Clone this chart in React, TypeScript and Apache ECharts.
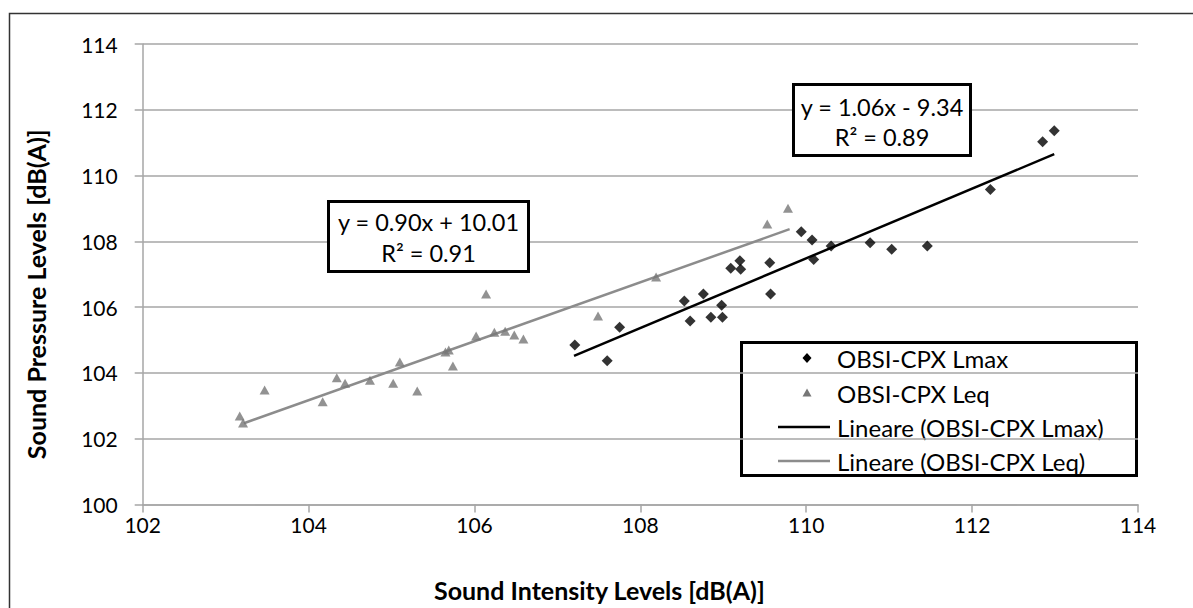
import React, { useEffect, useRef } from "react";
import * as echarts from "echarts";

// Data
const lmaxX = [107.21, 107.6, 107.75, 108.53, 108.6, 108.76, 108.85, 108.98, 108.99, 109.09, 109.2, 109.21, 109.56, 109.57, 109.94, 110.07, 110.09, 110.3, 110.77, 111.03, 111.46, 112.22, 112.85, 112.99];
const lmaxY = [104.85, 104.37, 105.39, 106.19, 105.58, 106.4, 105.69, 106.06, 105.69, 107.18, 107.41, 107.15, 107.35, 106.4, 108.29, 108.04, 107.45, 107.86, 107.96, 107.76, 107.86, 109.58, 111.03, 111.36];
const leqX = [103.17, 103.21, 103.47, 104.17, 104.34, 104.44, 104.74, 105.02, 105.1, 105.31, 105.65, 105.69, 105.74, 106.02, 106.14, 106.24, 106.37, 106.48, 106.59, 107.49, 108.19, 109.53, 109.78];
const leqY = [102.69, 102.48, 103.48, 103.12, 103.85, 103.69, 103.78, 103.69, 104.33, 103.45, 104.64, 104.7, 104.21, 105.12, 106.4, 105.24, 105.27, 105.15, 105.03, 105.73, 106.92, 108.53, 109.01];
const lmaxTrendX = [107.2, 112.99];
const lmaxTrendY = [104.52, 110.65];
const leqTrendX = [103.22, 109.8];
const leqTrendY = [102.47, 108.37];

const seriesNames = [
  "OBSI-CPX Lmax",
  "OBSI-CPX Leq",
  "Lineare (OBSI-CPX Lmax)",
  "Lineare (OBSI-CPX Leq)",
];
const eqLmax = ["y = 1.06x - 9.34", "R² = 0.89"];
const eqLeq = ["y = 0.90x + 10.01", "R² = 0.91"];
const xTitle = "Sound Intensity Levels [dB(A)]";
const yTitle = "Sound Pressure Levels [dB(A)]";

const FONT = "Lato";
const GRID = "#a6a6a6";
const LMAX_COLOR = "#000";
const LEQ_COLOR = "#777";
const LEQ_LINE = "#8c8c8c";

function zip(xs: number[], ys: number[]) {
  return xs.map((x, i) => [x, ys[i]]);
}

function eqBox(x: number, y: number, w: number, h: number, lines: string[], l1: number, l2: number) {
  const txt = (t: string, ty: number) => ({
    type: "text",
    x: x + w / 2,
    y: ty,
    style: { text: t, fontFamily: FONT, fontSize: 23.5, fill: "#000", align: "center", verticalAlign: "middle" },
    z: 11,
  });
  return {
    type: "group",
    children: [
      {
        type: "rect",
        shape: { x: x + 1.5, y: y + 1.5, width: w - 3, height: h - 3 },
        style: { fill: "#fff", stroke: "#000", lineWidth: 3 },
        z: 10,
      },
      txt(lines[0], l1),
      txt(lines[1], l2),
    ],
  };
}

function legendGraphic() {
  const rows = [358, 393, 427, 461];
  const children: any[] = [
    {
      type: "rect",
      shape: { x: 741.5, y: 342.5, width: 395, height: 133 },
      style: { fill: "#fff", stroke: "#000", lineWidth: 3 },
    },
    {
      type: "polygon",
      shape: { points: [[807, rows[0] - 5], [811.5, rows[0]], [807, rows[0] + 5], [802.5, rows[0]]] },
      style: { fill: LMAX_COLOR },
    },
    {
      type: "polygon",
      shape: { points: [[807, rows[1] - 4.5], [811.5, rows[1] + 3.5], [802.5, rows[1] + 3.5]] },
      style: { fill: LEQ_COLOR },
    },
    {
      type: "line",
      shape: { x1: 778, y1: rows[2], x2: 830, y2: rows[2] },
      style: { stroke: LMAX_COLOR, lineWidth: 2.5 },
    },
    {
      type: "line",
      shape: { x1: 778, y1: rows[3], x2: 830, y2: rows[3] },
      style: { stroke: LEQ_LINE, lineWidth: 2.5 },
    },
  ];
  seriesNames.forEach((n, i) => {
    children.push({
      type: "text",
      x: 837,
      y: rows[i],
      style: { text: n, fontFamily: FONT, fontSize: 24, fill: "#000", align: "left", verticalAlign: "middle" },
    });
  });
  return { type: "group", z: 12, children };
}

export default function App() {
  const ref = useRef<HTMLDivElement>(null);
  useEffect(() => {
    if (!ref.current) return;
    const chart = echarts.init(ref.current, undefined, { renderer: "svg" });
    chart.setOption({
      animation: false,
      backgroundColor: "#fff",
      grid: { left: 142.7, right: 55, top: 44, bottom: 103.5, containLabel: false },
      xAxis: {
        type: "value",
        min: 102,
        max: 114,
        interval: 2,
        name: xTitle,
        nameLocation: "middle",
        nameGap: 73,
        nameTextStyle: { fontFamily: FONT, fontSize: 25, fontWeight: "bold", color: "#000", padding: [0, 82, 0, 0] },
        axisLine: { show: true, lineStyle: { color: GRID, width: 1.5 } },
        axisTick: { show: true, length: 8, lineStyle: { color: GRID, width: 1.5 } },
        axisLabel: { fontFamily: FONT, fontSize: 21, color: "#000", margin: 9 },
        splitLine: { show: false },
      },
      yAxis: {
        type: "value",
        min: 100,
        max: 114,
        interval: 2,
        name: yTitle,
        nameLocation: "middle",
        nameGap: 94,
        nameRotate: 90,
        nameTextStyle: { fontFamily: FONT, fontSize: 25, fontWeight: "bold", color: "#000", padding: [0, 40, 0, 0] },
        axisLine: { show: true, lineStyle: { color: GRID, width: 1.5 } },
        axisTick: { show: true, length: 8, lineStyle: { color: GRID, width: 1.5 } },
        axisLabel: { fontFamily: FONT, fontSize: 21, color: "#000", margin: 25 },
        splitLine: { show: true, lineStyle: { color: GRID, width: 1.5 } },
      },
      series: [
        {
          name: seriesNames[0],
          type: "scatter",
          symbol: "diamond",
          symbolSize: 11,
          itemStyle: { color: LMAX_COLOR },
          data: zip(lmaxX, lmaxY),
          z: 4,
        },
        {
          name: seriesNames[1],
          type: "scatter",
          symbol: "triangle",
          symbolSize: [10, 9],
          itemStyle: { color: LEQ_COLOR },
          data: zip(leqX, leqY),
          z: 3,
        },
        {
          name: seriesNames[2],
          type: "line",
          symbol: "none",
          lineStyle: { color: LMAX_COLOR, width: 2.5 },
          itemStyle: { color: LMAX_COLOR },
          data: zip(lmaxTrendX, lmaxTrendY),
          z: 2,
        },
        {
          name: seriesNames[3],
          type: "line",
          symbol: "none",
          lineStyle: { color: LEQ_LINE, width: 2.5 },
          itemStyle: { color: LEQ_LINE },
          data: zip(leqTrendX, leqTrendY),
          z: 2,
        },
      ],
      graphic: [
        {
          type: "rect",
          shape: { x: 9.5, y: 13.5, width: 1200, height: 620 },
          style: { fill: "none", stroke: "#333", lineWidth: 1.5 },
          silent: true,
          z: 1,
        },
        legendGraphic(),
        eqBox(327, 200, 203, 73, eqLeq, 222, 253),
        eqBox(792, 83, 180, 74, eqLmax, 107, 137),
      ],
    });
    return () => chart.dispose();
  }, []);
  return <div ref={ref} style={{ position: "fixed", left: 0, top: 0, width: 1193, height: 608 }} />;
}
